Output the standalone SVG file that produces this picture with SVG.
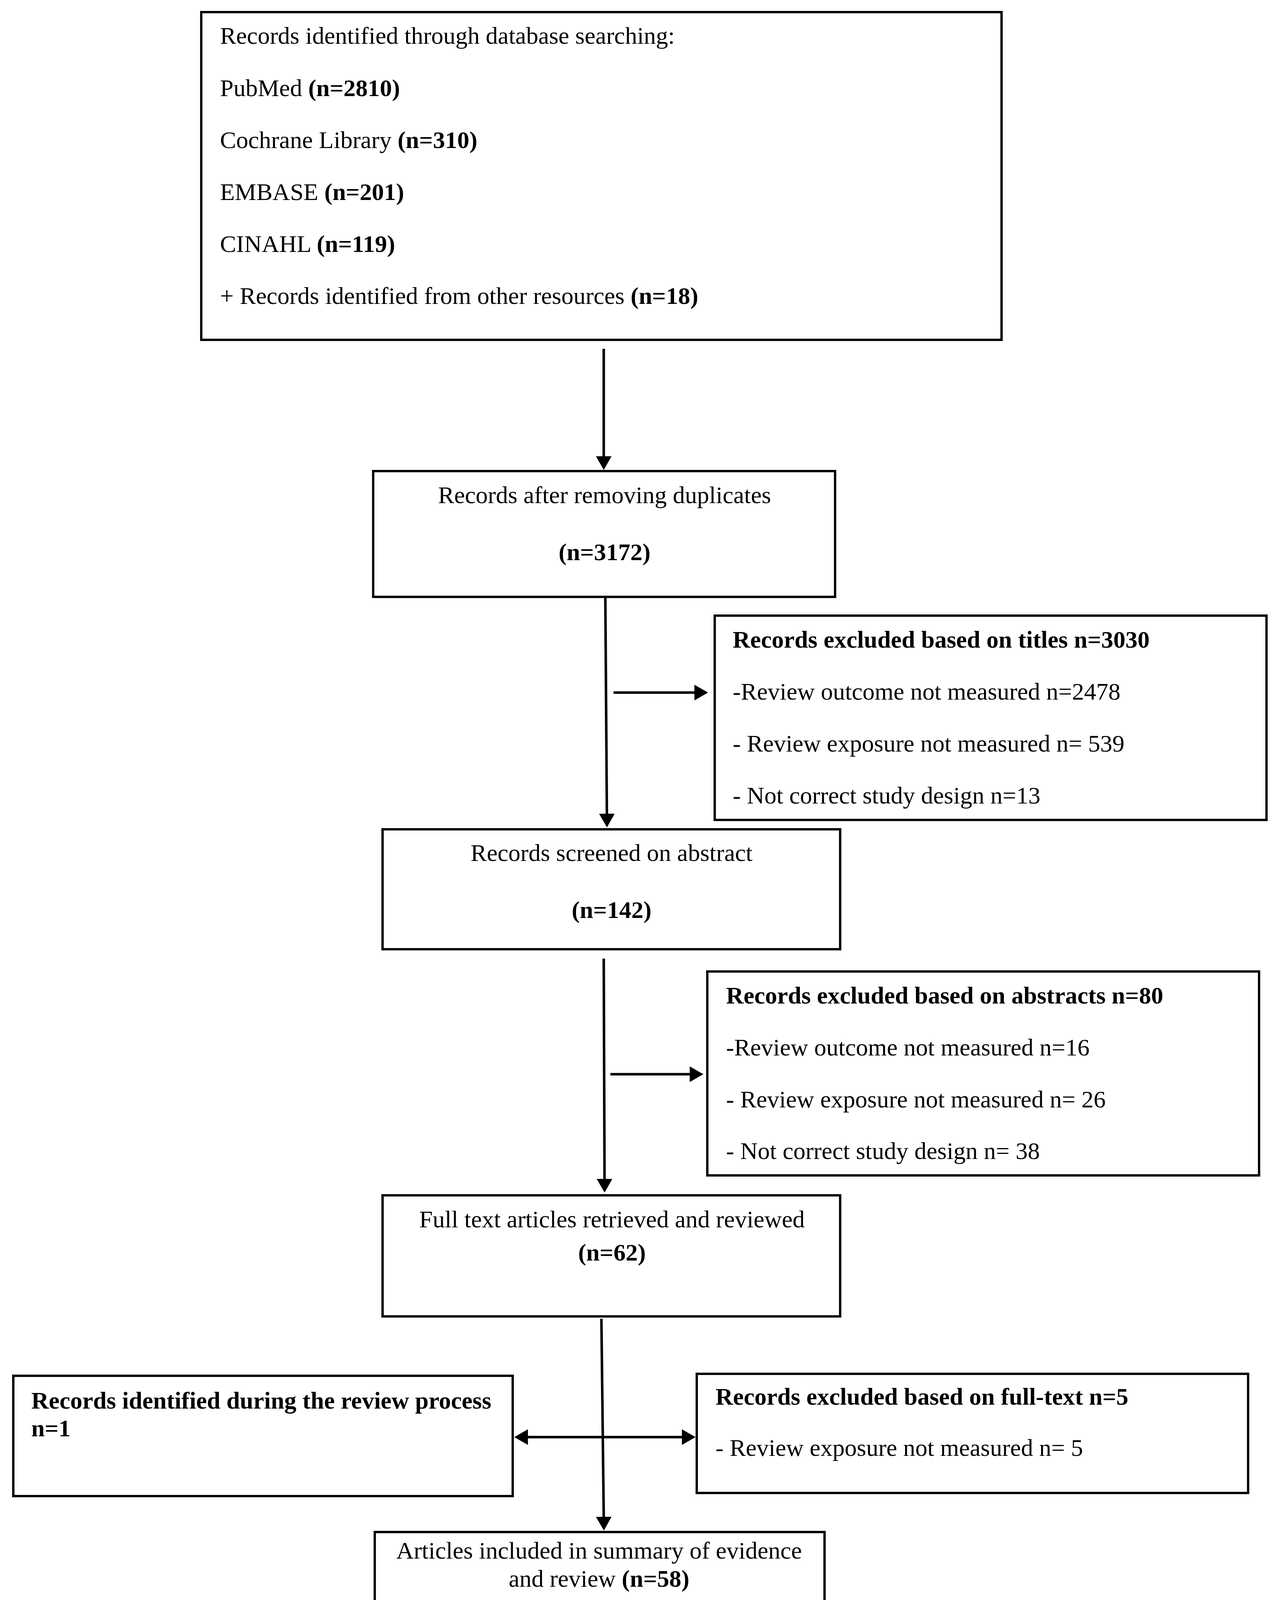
<svg xmlns="http://www.w3.org/2000/svg" width="3273" height="4315" viewBox="0 0 3273 4315">
<style>
.box{fill:#ffffff;stroke:#000000;stroke-width:6}
.t{font-family:"Liberation Serif","Times New Roman",serif;font-size:62px;fill:#000000}
.b{font-weight:bold}
.c{text-anchor:middle}
.con{stroke:#000000;stroke-width:6.5;fill:none}
</style>
<defs>
<marker id="ah" markerUnits="userSpaceOnUse" markerWidth="36" markerHeight="42" refX="0" refY="20" orient="auto-start-reverse" viewBox="0 0 36 40">
<path d="M0,0 L35,20 L0,40 Z" fill="#000000"/>
</marker>
</defs>
<rect width="3273" height="4315" fill="#ffffff"/>
<g id="connectors">
<line class="con" x1="1545" y1="893" x2="1545" y2="1168" marker-end="url(#ah)"/>
<line class="con" x1="1549" y1="1520" x2="1553" y2="2083" marker-end="url(#ah)"/>
<line class="con" x1="1570" y1="1773" x2="1777" y2="1773" marker-end="url(#ah)"/>
<line class="con" x1="1545" y1="2454" x2="1547" y2="3018" marker-end="url(#ah)"/>
<line class="con" x1="1562" y1="2750" x2="1765" y2="2750" marker-end="url(#ah)"/>
<line class="con" x1="1539" y1="3376" x2="1545" y2="3883" marker-end="url(#ah)"/>
<line class="con" x1="1351" y1="3679" x2="1745" y2="3679" marker-start="url(#ah)" marker-end="url(#ah)"/>
</g>
<g id="node-identified">
<rect class="box" x="515" y="31" width="2048" height="839"/>
<text class="t" x="563" y="112">Records identified through database searching:</text>
<text class="t" x="563" y="246">PubMed <tspan class="b">(n=2810)</tspan></text>
<text class="t" x="563" y="379">Cochrane Library <tspan class="b">(n=310)</tspan></text>
<text class="t" x="563" y="512">EMBASE <tspan class="b">(n=201)</tspan></text>
<text class="t" x="563" y="645">CINAHL <tspan class="b">(n=119)</tspan></text>
<text class="t" x="563" y="778">+ Records identified from other resources <tspan class="b">(n=18)</tspan></text>
</g>
<g id="node-duplicates">
<rect class="box" x="955" y="1206" width="1182" height="322"/>
<text class="t c" x="1547" y="1288">Records after removing duplicates</text>
<text class="t c b" x="1547" y="1434">(n=3172)</text>
</g>
<g id="node-excluded-titles">
<rect class="box" x="1829" y="1576" width="1412" height="523"/>
<text class="t b" x="1875" y="1658">Records excluded based on titles n=3030</text>
<text class="t" x="1875" y="1791">-Review outcome not measured n=2478</text>
<text class="t" x="1875" y="1924">- Review exposure not measured n= 539</text>
<text class="t" x="1875" y="2057">- Not correct study design n=13</text>
</g>
<g id="node-screened">
<rect class="box" x="979" y="2123" width="1171" height="307"/>
<text class="t c" x="1565" y="2204">Records screened on abstract</text>
<text class="t c b" x="1565" y="2350">(n=142)</text>
</g>
<g id="node-excluded-abstracts">
<rect class="box" x="1810" y="2487" width="1412" height="522"/>
<text class="t b" x="1858" y="2569">Records excluded based on abstracts n=80</text>
<text class="t" x="1858" y="2702">-Review outcome not measured n=16</text>
<text class="t" x="1858" y="2835">- Review exposure not measured n= 26</text>
<text class="t" x="1858" y="2967">- Not correct study design n= 38</text>
</g>
<g id="node-fulltext">
<rect class="box" x="979" y="3060" width="1171" height="310"/>
<text class="t c" x="1566" y="3142">Full text articles retrieved and reviewed</text>
<text class="t c b" x="1566" y="3227">(n=62)</text>
</g>
<g id="node-identified-review">
<rect class="box" x="34" y="3522" width="1278" height="308"/>
<text class="t b" x="80" y="3606">Records identified during the review process</text>
<text class="t b" x="80" y="3677">n=1</text>
</g>
<g id="node-excluded-fulltext">
<rect class="box" x="1783" y="3517" width="1411" height="305"/>
<text class="t b" x="1831" y="3596">Records excluded based on full-text n=5</text>
<text class="t" x="1831" y="3727">- Review exposure not measured n= 5</text>
</g>
<g id="node-included">
<rect class="box" x="959" y="3922" width="1151" height="310"/>
<text class="t c" x="1533" y="3990">Articles included in summary of evidence</text>
<text class="t c" x="1533" y="4062">and review <tspan class="b">(n=58)</tspan></text>
</g>
</svg>
